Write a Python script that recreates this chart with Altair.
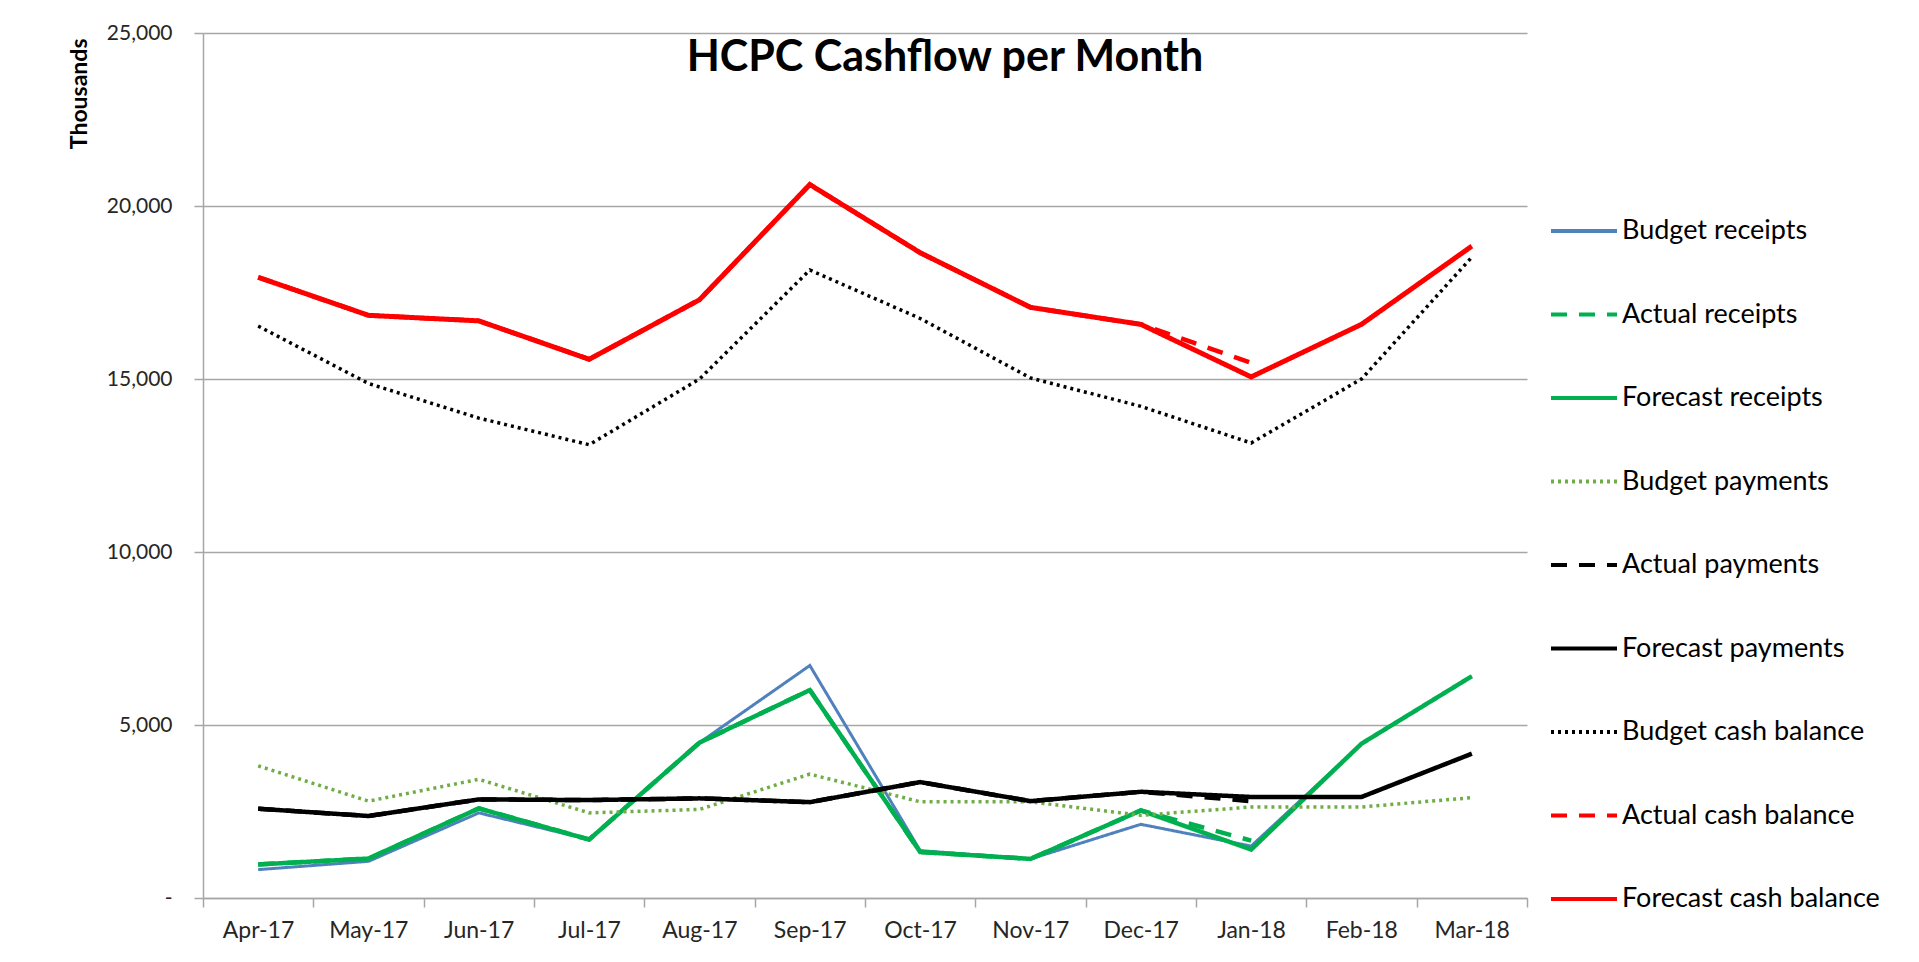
import altair as alt
import pandas as pd

months = ["Apr-17", "May-17", "Jun-17", "Jul-17", "Aug-17", "Sep-17",
          "Oct-17", "Nov-17", "Dec-17", "Jan-18", "Feb-18", "Mar-18"]

series_names = ["Budget receipts", "Actual receipts", "Forecast receipts",
                "Budget payments", "Actual payments", "Forecast payments",
                "Budget cash balance", "Actual cash balance", "Forecast cash balance"]

budget_receipts = [820, 1060, 2460, 1690, 4490, 6720, 1370, 1130, 2130, 1500, 4460, 6410]
actual_receipts = [970, 1140, 2590, 1690, 4490, 6010, 1330, 1130, 2530, 1660]
forecast_receipts = [970, 1140, 2590, 1690, 4490, 6010, 1330, 1130, 2530, 1400, 4460, 6410]
budget_payments = [3820, 2800, 3430, 2460, 2560, 3580, 2780, 2780, 2390, 2630, 2630, 2900]
actual_payments = [2580, 2370, 2850, 2830, 2880, 2770, 3350, 2800, 3070, 2800]
forecast_payments = [2580, 2370, 2850, 2830, 2880, 2770, 3350, 2800, 3070, 2920, 2920, 4170]
budget_cash = [16530, 14870, 13870, 13100, 15000, 18150, 16750, 15030, 14210, 13150, 15000, 18520]
actual_cash = [17940, 16840, 16680, 15570, 17290, 20620, 18650, 17070, 16580, 15470]
forecast_cash = [17940, 16840, 16680, 15570, 17290, 20620, 18650, 17070, 16580, 15060, 16580, 18840]

all_values = [budget_receipts, actual_receipts, forecast_receipts,
              budget_payments, actual_payments, forecast_payments,
              budget_cash, actual_cash, forecast_cash]

colors = ["#4F81BD", "#00B050", "#00B050", "#70AD47", "#000000",
          "#000000", "#000000", "#FF0000", "#FF0000"]
dashes = [[1, 0], [16, 12], [1, 0], [3, 4], [16, 12], [1, 0], [3, 4], [16, 12], [1, 0]]
widths = [3, 4.5, 4.5, 3.5, 4.5, 4.5, 3.5, 4.5, 5]

rows = []
for name, vals in zip(series_names, all_values):
    for i, v in enumerate(vals):
        rows.append({"series": name, "idx": i, "value": v})
df = pd.DataFrame(rows)

month_arr = "[" + ",".join("'" + m + "'" for m in months) + "]"
label_expr = month_arr + "[datum.value + 0.5] || ''"

x_enc = alt.X(
    "idx:Q",
    scale=alt.Scale(domain=[-0.5, 11.5], nice=False, zero=False),
    axis=alt.Axis(
        values=[-0.5 + i for i in range(13)],
        labelExpr=label_expr,
        labelOffset=55,
        labelFlush=False,
        labelOverlap=False,
        labelBound=False,
        grid=False,
        tickSize=9,
        title=None,
        labelFontSize=23,
        labelPadding=12,
    ),
)
y_enc = alt.Y(
    "value:Q",
    scale=alt.Scale(domain=[0, 25000], nice=False),
    axis=alt.Axis(
        values=[0, 5000, 10000, 15000, 20000, 25000],
        labelExpr="datum.value == 0 ? '-' : format(datum.value, ',')",
        title="Thousands",
        titleFontWeight="bold",
        titleFontSize=23,
        titleAngle=270,
        titleAlign="right",
        titleBaseline="alphabetic",
        titleX=-117,
        titleY=5,
        tickSize=9,
        labelPadding=22,
        labelFontSize=21,
    ),
)
legend = alt.Legend(
    title=None,
    orient="none",
    legendX=1346,
    legendY=163,
    symbolType="stroke",
    symbolSize=4356,
    symbolStrokeWidth=4,
    labelFontSize=27,
    labelOffset=3,
    labelLimit=0,
    rowPadding=35.5,
    padding=0,
)
color_enc = alt.Color("series:N", scale=alt.Scale(domain=series_names, range=colors), legend=legend)
dash_enc = alt.StrokeDash("series:N", scale=alt.Scale(domain=series_names, range=dashes), legend=legend)

layers = []
for name, w in zip(series_names, widths):
    layers.append(
        alt.Chart(df)
        .transform_filter(alt.datum.series == name)
        .mark_line(strokeWidth=w)
        .encode(x=x_enc, y=y_enc, color=color_enc, strokeDash=dash_enc)
    )

chart = (
    alt.layer(*layers)
    .properties(
        width=1324,
        height=865,
        autosize=alt.AutoSizeParams(type="none"),
        padding={"left": 195, "top": 25, "right": 380, "bottom": 56},
        title=alt.TitleParams(
            "HCPC Cashflow per Month",
            font="Lato",
            fontSize=43,
            fontWeight="bold",
            color="#000000",
            anchor="middle",
            dx=80,
            offset=-92,
            baseline="alphabetic",
        ),
    )
    .configure(font="Lato")
    .configure_view(stroke=None)
    .configure_axis(
        labelFont="Lato",
        titleFont="Lato",
        labelColor="#262626",
        titleColor="#000000",
        domainColor="#A6A6A6",
        tickColor="#A6A6A6",
        gridColor="#A6A6A6",
        domainWidth=1.5,
        tickWidth=1.5,
        gridWidth=1.5,
    )
    .configure_legend(labelFont="Lato", labelColor="#000000")
)

chart.save("out.html", embed_options={"renderer": "svg", "actions": False})
